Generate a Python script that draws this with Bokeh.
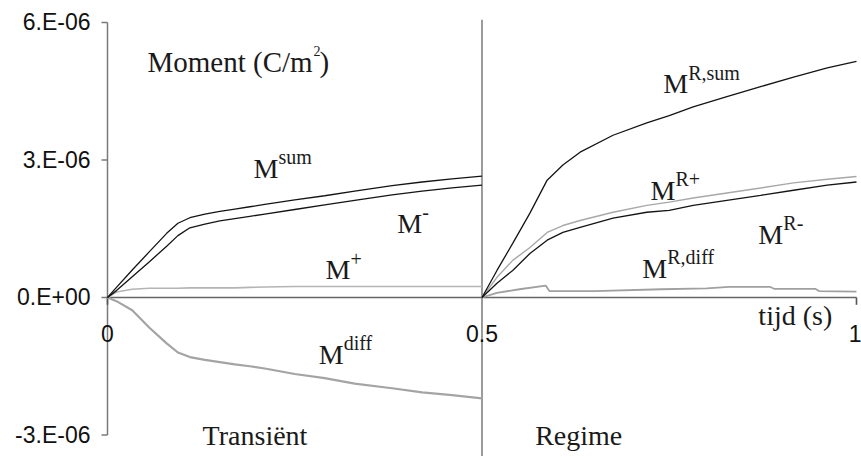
from bokeh.plotting import figure
from bokeh.models import Range1d
from bokeh.core.properties import value
from bokeh.embed import file_html
from bokeh.resources import INLINE

UNIT = 1e-6  # moments below are listed in 1e-6 C/m^2

# --- transient phase, 0 .. 0.5 s ---
t_trans = [0.0, 0.012, 0.033, 0.056, 0.079, 0.094, 0.11, 0.13, 0.15, 0.17,
           0.19, 0.21, 0.25, 0.29, 0.33, 0.38, 0.42, 0.46, 0.5]
m_sum = [0.0, 0.22, 0.6, 1.0, 1.4, 1.62, 1.74, 1.82, 1.88, 1.93,
         1.98, 2.03, 2.13, 2.22, 2.32, 2.44, 2.52, 2.59, 2.65]
m_minus = [0.0, 0.15, 0.45, 0.78, 1.12, 1.35, 1.52, 1.6, 1.67, 1.72,
           1.77, 1.82, 1.92, 2.02, 2.12, 2.24, 2.32, 2.39, 2.45]
m_plus = [0.0, 0.12, 0.18, 0.2, 0.2, 0.2, 0.21, 0.21, 0.21, 0.21,
          0.22, 0.23, 0.24, 0.24, 0.24, 0.24, 0.24, 0.24, 0.24]
m_diff = [0.0, -0.08, -0.28, -0.66, -1.0, -1.2, -1.3, -1.36, -1.41, -1.46,
          -1.5, -1.55, -1.67, -1.76, -1.88, -1.98, -2.07, -2.13, -2.2]

# --- steady regime, 0.5 .. 1 s ---
t_reg = [0.5, 0.52, 0.541, 0.564, 0.587, 0.608, 0.631, 0.675, 0.72, 0.75,
         0.782, 0.827, 0.872, 0.916, 0.961, 1.0]
r_sum = [0.0, 0.59, 1.18, 1.84, 2.56, 2.89, 3.17, 3.54, 3.81, 3.97,
         4.16, 4.38, 4.6, 4.81, 5.01, 5.15]
r_plus = [0.0, 0.44, 0.81, 1.09, 1.42, 1.57, 1.68, 1.86, 2.01, 2.08,
          2.17, 2.28, 2.39, 2.5, 2.58, 2.64]
r_minus = [0.0, 0.31, 0.59, 0.96, 1.25, 1.42, 1.53, 1.73, 1.86, 1.9,
           2.01, 2.12, 2.23, 2.34, 2.45, 2.52]
t_rdiff = [0.5, 0.52, 0.55, 0.585, 0.59, 0.65, 0.74, 0.8, 0.83, 0.885,
           0.89, 0.945, 0.95, 1.0]
r_diff = [0.0, 0.1, 0.18, 0.26, 0.14, 0.14, 0.18, 0.2, 0.23, 0.23,
          0.19, 0.19, 0.14, 0.13]

# axis ticks and their labels
y_ticks = [-3.0, 0.0, 3.0, 6.0]
y_tick_labels = ["-3.E-06", "0.E+00", "3.E-06", "6.E-06"]
x_ticks = [0.0, 0.5, 1.0]
x_tick_labels = ["0", "0.5", "1"]

# annotation texts: (base, superscript, x [s], y [1e-6 C/m^2])
curve_labels = [
    ("M", "sum", 0.195, 2.6),
    ("M", "-", 0.387, 1.4),
    ("M", "+", 0.291, 0.39),
    ("M", "diff", 0.282, -1.46),
    ("M", "R,sum", 0.742, 4.45),
    ("M", "R+", 0.725, 2.12),
    ("M", "R-", 0.869, 1.16),
    ("M", "R,diff", 0.714, 0.42),
]
phase_labels = [("Transiënt", 0.127, -3.23), ("Regime", 0.571, -3.23)]

LIFT = -10  # px, lifts glyph text onto its baseline


def sc(vals):
    return [v * UNIT for v in vals]


# the frame fills the whole canvas; both axes are drawn by hand inside it
p = figure(width=861, height=459, output_backend="svg", toolbar_location=None,
           x_range=Range1d(-0.14286, 1.0067), y_range=Range1d(-3.535e-6, 6.48e-6),
           x_axis_type=None, y_axis_type=None, min_border=0)
p.outline_line_color = None
p.grid.visible = False
p.background_fill_color = "white"
p.border_fill_color = "white"

axis_grey = "#7a7a7a"
sans = value("Liberation Sans")

# y axis at t = 0 with outward ticks and Excel style labels
p.segment(x0=[0.0], y0=[-3e-6], x1=[0.0], y1=[6e-6], line_color=axis_grey, line_width=1.5)
p.segment(x0=[0.0] * 4, y0=sc(y_ticks), x1=[-0.008] * 4, y1=sc(y_ticks),
          line_color=axis_grey, line_width=1.5)
p.text(x=[0.0] * 4, y=sc(y_ticks), text=y_tick_labels, x_offset=-17,
       text_align="right", text_baseline="middle", text_font=sans,
       text_font_size="23px", text_color="#111111")

# x axis drawn through zero, phase divider at 0.5 s
p.segment(x0=[0.0], y0=[0.0], x1=[1.0], y1=[0.0], line_color="#666666", line_width=1.6)
p.segment(x0=[0.5], y0=[-3.46e-6], x1=[0.5], y1=[6.06e-6], line_color=axis_grey, line_width=1.5)
p.segment(x0=[0.0, 1.0], y0=[0.0, 0.0], x1=[0.0, 1.0], y1=[-0.16e-6, -0.16e-6],
          line_color="#555555", line_width=1.6)
p.text(x=x_ticks[:2], y=[-0.98e-6] * 2, text=x_tick_labels[:2], text_align="center",
       text_baseline="alphabetic", y_offset=LIFT + 1, text_font=sans,
       text_font_size="23px", text_color="#111111")
p.text(x=x_ticks[2:], y=[-0.98e-6], text=x_tick_labels[2:], text_align="right",
       x_offset=5, text_baseline="alphabetic", y_offset=LIFT + 1, text_font=sans,
       text_font_size="23px", text_color="#111111")

# curves
black = "#141414"
p.line(t_trans, sc(m_plus), line_color="#b4b4b4", line_width=1.6)
p.line(t_trans, sc(m_diff), line_color="#a4a4a4", line_width=2.2)
p.line(t_trans, sc(m_sum), line_color=black, line_width=1.3)
p.line(t_trans, sc(m_minus), line_color=black, line_width=1.3)

p.line(t_rdiff, sc(r_diff), line_color="#a0a0a0", line_width=1.8)
p.line(t_reg, sc(r_plus), line_color="#a8a8a8", line_width=1.4)
p.line(t_reg, sc(r_minus), line_color=black, line_width=1.3)
p.line(t_reg, sc(r_sum), line_color=black, line_width=1.3)

serif = value("Liberation Serif")
txt = "#1a1a1a"

# y-axis title with superscript
p.text(x=[0.0534], y=[4.93e-6], text=["Moment (C/m"], text_font=serif,
       text_font_size="29px", text_baseline="alphabetic", text_color=txt,
       y_offset=LIFT)
p.text(x=[0.0534], y=[4.93e-6], text=["2"], text_font=serif, text_font_size="14px",
       text_baseline="alphabetic", text_color=txt, x_offset=166, y_offset=LIFT - 11)
p.text(x=[0.0534], y=[4.93e-6], text=[")"], text_font=serif, text_font_size="29px",
       text_baseline="alphabetic", text_color=txt, x_offset=172, y_offset=LIFT)

# curve names M with superscripts
p.text(x=[c[2] for c in curve_labels], y=sc([c[3] for c in curve_labels]),
       text=[c[0] for c in curve_labels], text_font=serif, text_font_size="28px",
       text_baseline="alphabetic", text_color=txt, y_offset=LIFT)
p.text(x=[c[2] for c in curve_labels], y=sc([c[3] for c in curve_labels]),
       text=[c[1] for c in curve_labels], text_font=serif, text_font_size="20px",
       text_baseline="alphabetic", text_color=txt, x_offset=25, y_offset=LIFT - 11)

# phase names and time label
p.text(x=[c[1] for c in phase_labels], y=sc([c[2] for c in phase_labels]),
       text=[c[0] for c in phase_labels], text_font=serif, text_font_size="28px",
       text_baseline="alphabetic", text_color=txt, y_offset=LIFT)
p.text(x=[0.869], y=[-0.61e-6], text=["tijd (s)"], text_font=serif,
       text_font_size="28px", text_baseline="alphabetic", text_color=txt,
       y_offset=LIFT)

open("out.html", "w").write(file_html(p, INLINE))
